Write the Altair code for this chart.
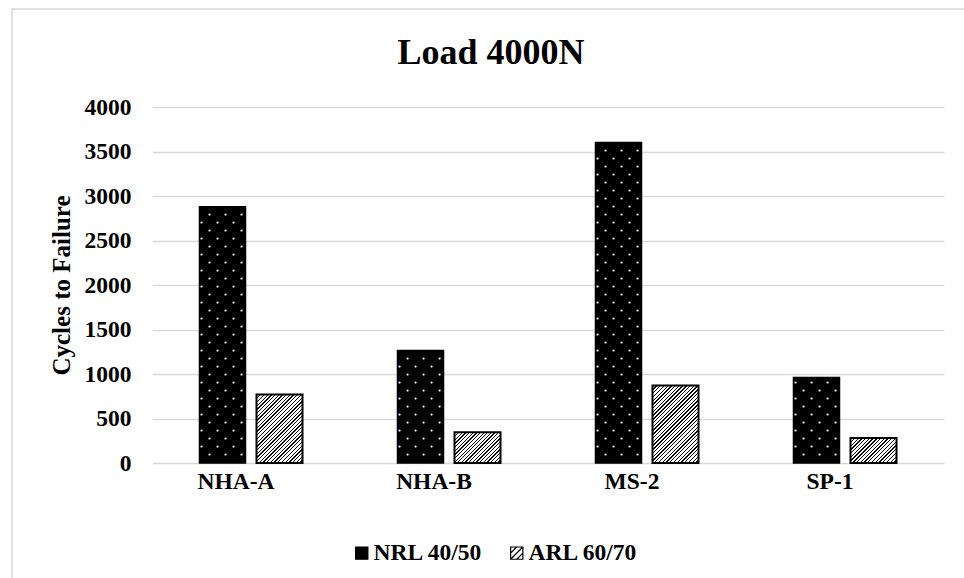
import math
import altair as alt
import pandas as pd

# ---------------- data ----------------
categories = ["NHA-A", "NHA-B", "MS-2", "SP-1"]
series_names = ["NRL 40/50", "ARL 60/70"]
nrl_values = [2880, 1265, 3600, 960]
arl_values = [770, 345, 870, 280]
y_ticks = [0, 500, 1000, 1500, 2000, 2500, 3000, 3500, 4000]
title_text = "Load 4000N"
y_title = "Cycles to Failure"

rows = []
for c, a, b in zip(categories, nrl_values, arl_values):
    rows.append({"category": c, "series": series_names[0], "value": a})
    rows.append({"category": c, "series": series_names[1], "value": b})
df = pd.DataFrame(rows)

# ---------------- layout / style ----------------
W, H = 792, 356
YMAX = 4000
BAR_W = 46
FONT = "Liberation Serif"
GRID = "#d9d9d9"

x_enc = alt.X(
    "category:N",
    sort=categories,
    scale=alt.Scale(domain=categories, paddingInner=0, paddingOuter=0),
    axis=alt.Axis(
        title=None, labelFont=FONT, labelFontSize=23.5, labelFontWeight="bold",
        labelColor="black", labelPadding=6, labelOffset=-15, labelAngle=0,
        domain=False, ticks=False, grid=False,
    ),
)
xoff_enc = alt.XOffset(
    "series:N",
    sort=series_names,
    scale=alt.Scale(domain=series_names, paddingInner=0.193, paddingOuter=0.833),
)
y_axis = alt.Axis(
    title=y_title, values=y_ticks, format="d",
    labelFont=FONT, labelFontSize=23.5, labelFontWeight="bold", labelColor="black",
    labelPadding=21, domain=False, ticks=False,
    grid=True, gridColor=GRID, gridWidth=1.5,
    titleFont=FONT, titleFontSize=25, titleFontWeight="bold", titleColor="black",
    titleX=-83, titleY=H / 2, titleAngle=270, titleBaseline="alphabetic",
    titleAlign="center",
)
y_scale = alt.Scale(domain=[0, YMAX], nice=False, zero=True)
y_enc = alt.Y("value:Q", scale=y_scale, axis=y_axis)

base = alt.Chart(df)

# legend carrier: points hidden behind the middle of each (opaque) bar
HATCH_PATH = "M-1,-1H1V1H-1Z M-1,0L0,-1 M-1,1L1,-1 M0,1L1,0"
leg = alt.Legend(
    title=None, orient="none", legendX=198, legendY=434, direction="horizontal",
    labelFont=FONT, labelFontSize=23.5, labelFontWeight="bold", labelColor="black",
    symbolSize=150, symbolStrokeWidth=1.2,
    labelOffset=0, columnPadding=22,
)
legend_layer = base.transform_calculate(mid="datum.value / 2").mark_point(
    filled=True, size=150, strokeWidth=1.2, opacity=1
).encode(
    x=x_enc, xOffset=xoff_enc, y=alt.Y("mid:Q", scale=y_scale, axis=y_axis),
    fill=alt.Fill("series:N", sort=series_names,
                  scale=alt.Scale(domain=series_names, range=["black", "white"]), legend=leg),
    stroke=alt.Stroke("series:N", sort=series_names,
                      scale=alt.Scale(domain=series_names, range=["black", "black"]), legend=leg),
    shape=alt.Shape("series:N", sort=series_names,
                    scale=alt.Scale(domain=series_names, range=["square", HATCH_PATH]), legend=leg),
)

# solid (dotted) bars
nrl_bars = base.transform_filter(
    f"datum.series == '{series_names[0]}'"
).mark_bar(fill="black", stroke="black", strokeWidth=1.5).encode(
    x=x_enc, xOffset=xoff_enc, y=y_enc
)

# white dot pattern on the dark bars (rows every 90 units, staggered)
dots_base = base.transform_filter(
    f"datum.series == '{series_names[0]}'"
).transform_calculate(
    rows="sequence(90, datum.value - 40, 90)"
).transform_flatten(["rows"]).transform_calculate(
    value="datum.rows", parity="round(datum.rows / 90) % 2"
)
NB = "\u00a0"
DOT_ROW = "•" + NB * 3 + "•" + NB * 3 + "•"
dots_odd = dots_base.transform_filter("datum.parity == 1").mark_text(
    text=DOT_ROW, font="DejaVu Sans Mono", fontSize=6.65,
    color="white", dx=3, baseline="middle", align="center"
).encode(x=x_enc, xOffset=xoff_enc, y=y_enc)
dots_even = dots_base.transform_filter("datum.parity == 0").mark_text(
    text=DOT_ROW, font="DejaVu Sans Mono", fontSize=6.65,
    color="white", dx=-5, baseline="middle", align="center"
).encode(x=x_enc, xOffset=xoff_enc, y=y_enc)


# hatched bars: linear gradient with hard stops, oriented at 45 degrees per bar
def hatch_gradient(value):
    w = BAR_W
    h = max(value * H / YMAX, 1.0)
    k = (w + h) / (w * w + h * h)
    n = max(int(round((w + h) / 3.7)), 2)
    f = 0.36
    stops = []
    for i in range(n):
        o0 = i / n
        o1 = (i + f) / n
        o2 = (i + 1) / n
        stops += [
            {"offset": o0, "color": "black"},
            {"offset": o1, "color": "black"},
            {"offset": o1, "color": "white"},
            {"offset": o2, "color": "white"},
        ]
    return {"gradient": "linear", "x1": 0, "y1": 0, "x2": k * w, "y2": k * h, "stops": stops}


arl_layers = []
for c, v in zip(categories, arl_values):
    arl_layers.append(
        base.transform_filter(
            f"datum.series == '{series_names[1]}' && datum.category == '{c}'"
        ).mark_bar(fill=hatch_gradient(v), stroke="black", strokeWidth=2).encode(
            x=x_enc, xOffset=xoff_enc, y=y_enc
        )
    )

# outer chart frame
frame = alt.Chart(alt.Data(values=[{"f": 1}])).mark_rect(
    fill="white", fillOpacity=0, stroke=GRID, strokeWidth=1.5
).encode(
    x=alt.value(-140), x2=alt.value(830), y=alt.value(-98), y2=alt.value(481)
)

chart = alt.layer(
    frame, legend_layer, nrl_bars, dots_odd, dots_even, *arl_layers
).properties(
    width=W, height=H,
    padding={"left": 152, "top": 107, "right": 20, "bottom": 115},
    autosize=alt.AutoSizeParams(type="none"),
    title=alt.Title(title_text, font=FONT, fontSize=36, fontWeight="bold",
                    color="black", anchor="middle", dx=-57, offset=-64),
    background="white",
).configure_view(stroke=None)

chart.save("out.html", embed_options={"renderer": "svg", "actions": False})
